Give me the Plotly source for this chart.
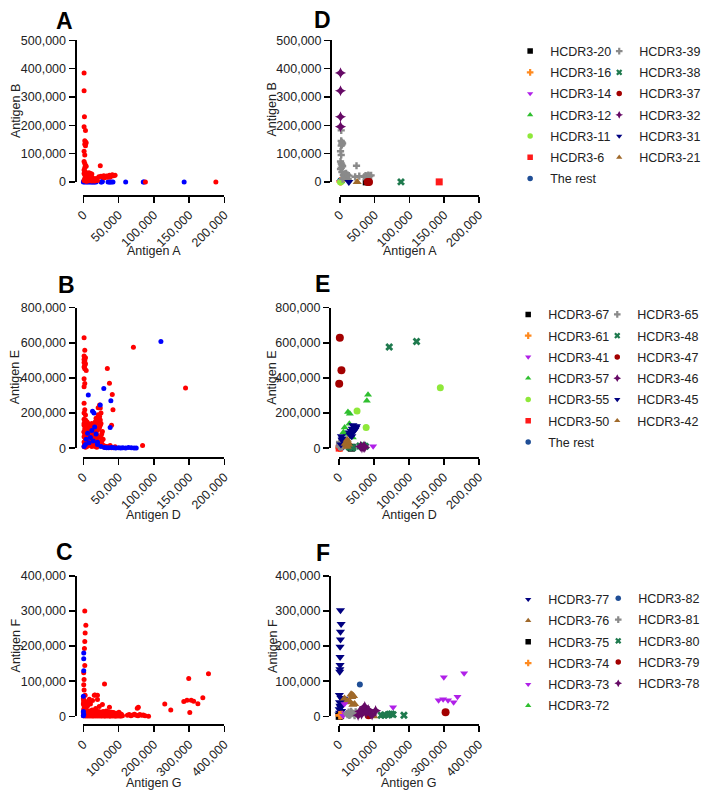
import plotly.graph_objects as go

W, H = 709, 799
FONT = "Arial, Liberation Sans, Helvetica, sans-serif"

# ---------------- data (values in thousands) ----------------
# Panel A : Antigen A (x) vs Antigen B (y)
A_red = [(1,385),(1,322),(1.5,230),(1,195),(3,182),(2,145),(3,141),(4,138),(2,133),(3,128),
         (1,108),(2,95),(1,72),(2,65),(3,58),(4,55),(2,50),(1,42),(3,35),(1,30),(2,25),(4,28),
         (6,30),(8,32),(10,30),(12,28),(5,22),(7,20),(9,18),(11,20),(13,15),(15,10),(17,8),(3,18),
         (5,15),(7,12),(9,10),(11,8),(2,12),(4,8),(6,6),(8,4),(1,5),(3,3),(5,2),(10,5),(12,3),(14,5),
         (16,3),(24,57),(22,18),(25,20),(27,17),(29,22),(31,19),(33,21),(35,18),(37,23),(39,20),
         (41,25),(43,22),(45,23),(30,15),(34,16),(38,17),(88,0),(188,0),(20,5),(18,12)]
A_blue = [(0,0),(1,1),(2,0),(3,2),(4,0),(5,1),(6,0),(7,1),(8,0),(9,2),(10,0),(11,1),(12,0),(13,0),
          (14,1),(15,0),(16,0),(17,1),(18,0),(25,0),(26,0),(27,1),(35,0),(37,0),(38,0),(40,0),(42,0),
          (60,0),(85,0),(86,0),(143,0),(1,5),(2,3)]

# Panel B : Antigen D (x) vs Antigen E (y)
B_red = [(1,628),(2,557),(1,524),(3,515),(1,505),(2,497),(1,488),(3,480),(2,472),(1,462),(2,452),
         (4,442),(1,395),(2,368),(1,350),(1,255),(2,218),(1,200),(3,188),(1,165),(2,150),(1,130),
         (3,110),(1,95),(2,80),(1,65),(3,50),(1,35),(2,20),(1,10),(3,5),
         (5,120),(6,100),(8,90),(10,80),(12,70),(7,60),(9,50),(11,40),(13,30),(15,20),(17,10),(19,5),
         (4,45),(3,70),(6,30),(8,20),(10,15),(12,10),(14,60),(16,50),(18,45),(20,40),(22,35),(24,30),
         (20,100),(22,110),(23,120),(24,130),(25,140),(22,150),(24,160),(20,170),(23,180),(25,200),
         (24,228),(23,246),(21,230),(18,170),(17,150),(15,130),(13,110),(11,120),(9,130),(7,140),
         (5,150),(3,160),(16,90),(14,85),(19,75),(21,65),(26,80),(27,95),(25,60),(28,50),(26,40),
         (27,20),(29,10),(30,5),(32,3),(35,5),(38,3),(40,2),(5,10),(2,25),(3,40),(6,80),(1,90),(2,110),
         (1,140),(17,120),(19,140),(21,190),(15,100),(12,140),(10,105),(8,115),(30,12),(33,10),(36,8),
         (71,574),(145,343),(84,15),(34,454),(37,370),(41,305),(42,218),(40,131),(38,15),(45,8)]
B_blue = [(110,607),(7,302),(29,339),(39,270),(38,117),(13,210),(15,200),(24,246),(16,120),(12,100),
          (6,85),(10,60),(18,80),(4,50),(8,30),(14,40),(20,20),(25,10),(30,3),(33,2),(36,2),(40,3),
          (43,2),(46,1),(50,2),(53,1),(56,2),(60,1),(64,3),(68,2),(72,1),(75,1),(3,20),(1,10),(20,33)]

# Panel C : Antigen G (x) vs Antigen F (y)
C_red = [(4,300),(7,259),(5,237),(4,213),(3,193),(4,145),(1,124),(2,105),(1,90),(2,75),(1,40),(2,30),
         (1,20),(3,25),(0,10),(1,45),(0,35),(0,50),
         (60,92),(33,61),(40,60),(31,60),(17,49),(26,45),(40,48),(17,42),(54,34),(74,26),(10,40),
         (12,30),(20,35),(8,25),(5,60),(3,45),(6,20),(45,28),(35,22),(25,18),(65,15),(80,12),(15,15),
         (299,108),(355,121),(339,53),(285,42),(294,46),(306,46),(313,43),(325,36),(231,35),(248,18),
         (302,11),(185,0),(153,23),(156,26),
         (0,2),(3,8),(6,4),(9,10),(12,3),(15,7),(18,12),(21,5),(24,9),(27,2),(30,6),(33,11),(36,4),
         (39,8),(42,3),(45,10),(48,6),(51,2),(54,9),(57,5),(60,12),(63,3),(66,7),(69,4),(72,10),(75,2),
         (78,6),(81,9),(84,3),(87,5),(90,8),(93,2),(96,6),(99,4),(102,9),(105,3),(108,6),(111,2),
         (125,3),(130,5),(135,2),(140,4),(145,6),(150,3),(155,2),(160,5),(165,3),(170,4),(175,2),
         (2,14),(5,1),(8,16),(11,1),(14,13),(17,1),(20,15),(23,1),(26,14),(29,1),(32,15),(35,1),
         (38,13),(41,1),(44,14),(47,1),(50,12),(53,1),(56,14),(59,1),(62,1),(65,11),(68,1),(71,13),
         (74,1),(77,1),(80,10),(83,1),(86,11),(89,1),(92,1),(95,9),(98,1),(101,12),(104,1),(107,1)]
C_blue = [(1,180),(1,164),(1,130),(0,57),(0,14),(1,5),(0,2)]

# Panel D groups (Antigen A vs Antigen B)
D_rest = [(0.5,3),(1,6),(2,2),(3,8),(1.5,0)]
D_20 = [(38,0)]
D_16 = [(1,2)]
D_14 = [(0.5,0)]
D_12 = [(2,1)]
D_11 = [(1,0)]
D_6 = [(143,0)]
D_39 = [(2,182),(2,145),(3,140),(4,136),(3,132),(2,128),(1,108),(2,95),(1,72),(2,65),(3,60),(4,55),
        (2,50),(1,45),(3,35),(5,25),(7,28),(9,30),(11,25),(13,22),(6,18),(8,15),(24,57),(22,18),(28,20),
        (35,18),(37,22),(39,20),(41,24),(43,21),(45,23),(40,15),(10,12),(12,10),(4,10)]
D_38 = [(88,0)]
D_37 = [(40,0),(42,0)]
D_32 = [(1,385),(1,322),(1,230),(1,195)]
D_31 = [(13,0)]
D_21 = [(25,0)]

# Panel E groups (Antigen D vs Antigen E)
E_rest = [(2,12),(4,2),(1,18),(3,6),(6,10)]
E_67 = [(17,3),(19,5),(18,0)]
E_61 = [(1,2),(3,5)]
E_41 = [(49,11),(2,3)]
E_57 = [(41.7,304),(40,270),(13,206),(15.7,196),(8.3,117),(6.5,91),(15,139),(10,80),(5,30),(20,60)]
E_55 = [(145,344),(26,211),(39,117)]
E_50 = [(0.5,0)]
E_65 = [(0.5,10),(1,25),(2,5),(3,15),(4,8),(1,35)]
E_48 = [(72,576),(111,607),(30,12),(33,8),(35,15),(38,10),(15,5),(18,3),(20,2)]
E_47 = [(1.4,628),(3.7,443),(0.5,367)]
E_46 = [(33,2),(35,6),(37,4),(31,10),(36,12)]
E_45 = [(3.7,67),(4.6,48),(20,131),(22,122),(17.6,98),(15,89),(24,115),(25,125),(19,110),(18.5,67),
        (21,95),(23,105),(16,75),(5,55),(6,40),(3,20)]
E_42 = [(12,48),(10.6,30),(13,35),(14,20),(11,15),(9,25),(12,8)]

# Panel F groups (Antigen G vs Antigen F)
F_77 = [(4.6,302),(6.5,263),(4.6,241),(4.6,219),(3.5,198),(3.5,169),(3.5,146),(3,134),(2.5,127),
        (1.5,61),(14,50),(2,40),(3,30),(1,20),(5,25),(8,15),(2,10),(10,35),(12,45),(6,52),(0.5,5)]
F_76 = [(35,63),(42,58),(39,61),(23,42),(33,40),(40,33),(28,41),(16,51),(37,55),(45,35),(100,0)]
F_75 = [(1,0),(5,2)]
F_74 = [(2,3),(8,4)]
F_73 = [(300,111),(285,46),(298,49),(312,46),(328,40),(339,56),(358,123),(155,26),(17,9),(16,35),(12,2)]
F_72 = [(135,3),(125,2)]
F_82 = [(60,91)]
F_81 = [(23,8),(28,12),(33,5),(38,10),(43,7),(48,13),(53,9),(58,5),(30,3),(45,2),(35,14),(25,5)]
F_80 = [(121,3),(130,4),(144,6),(150,7),(155,5),(140,4),(186,3)]
F_79 = [(305,12),(85,3)]
F_78 = [(74,28),(70,23),(84,19),(105,16),(60,14),(78,10),(90,8),(65,6),(95,4),(55,3)]

# tick values / labels (thousands)
ticks_200 = [0, 50, 100, 150, 200]
ticks_200_txt = ["0", "50,000", "100,000", "150,000", "200,000"]
ticks_400 = [0, 100, 200, 300, 400]
ticks_400_txt = ["0", "100,000", "200,000", "300,000", "400,000"]
ticks_500 = [0, 100, 200, 300, 400, 500]
ticks_500_txt = ["0", "100,000", "200,000", "300,000", "400,000", "500,000"]
ticks_800 = [0, 200, 400, 600, 800]
ticks_800_txt = ["0", "200,000", "400,000", "600,000", "800,000"]

# legend series (column 1, column 2)
D_col1 = [("HCDR3-20", D_20), ("HCDR3-16", D_16), ("HCDR3-14", D_14), ("HCDR3-12", D_12),
          ("HCDR3-11", D_11), ("HCDR3-6", D_6), ("The rest", D_rest)]
D_col2 = [("HCDR3-39", D_39), ("HCDR3-38", D_38), ("HCDR3-37", D_37), ("HCDR3-32", D_32),
          ("HCDR3-31", D_31), ("HCDR3-21", D_21)]
E_col1 = [("HCDR3-67", E_67), ("HCDR3-61", E_61), ("HCDR3-41", E_41), ("HCDR3-57", E_57),
          ("HCDR3-55", E_55), ("HCDR3-50", E_50), ("The rest", E_rest)]
E_col2 = [("HCDR3-65", E_65), ("HCDR3-48", E_48), ("HCDR3-47", E_47), ("HCDR3-46", E_46),
          ("HCDR3-45", E_45), ("HCDR3-42", E_42)]
F_col1 = [("HCDR3-77", F_77), ("HCDR3-76", F_76), ("HCDR3-75", F_75), ("HCDR3-74", F_74),
          ("HCDR3-73", F_73), ("HCDR3-72", F_72)]
F_col2 = [("HCDR3-82", F_82), ("HCDR3-81", F_81), ("HCDR3-80", F_80), ("HCDR3-79", F_79),
          ("HCDR3-78", F_78)]

# ---------------- styles ----------------
STY = {
    "black_sq": ("#000000", "square", 7),
    "orange_cross": ("#ff8a1f", "cross", 7),
    "violet_tdown": ("#b020e8", "triangle-down", 7),
    "green_tup": ("#2fbf2f", "triangle-up", 7),
    "lime_circ": ("#8fe83a", "circle", 7),
    "red_sq": ("#ff1a1a", "square", 7),
    "blue_circ": ("#1f4e96", "circle", 6),
    "grey_cross": ("#8a8a8a", "cross", 6),
    "teal_x": ("#1f7a4e", "x", 7),
    "dred_circ": ("#a30000", "circle", 8),
    "purple_dia": ("#660a66", "star-diamond", 8),
    "navy_tdown": ("#000080", "triangle-down", 8),
    "brown_tup": ("#a0692a", "triangle-up", 8),
}
LEG_SIZE = 5.5
DE_col1_sty = ["black_sq", "orange_cross", "violet_tdown", "green_tup", "lime_circ", "red_sq", "blue_circ"]
DE_col2_sty = ["grey_cross", "teal_x", "dred_circ", "purple_dia", "navy_tdown", "brown_tup"]
F_col1_sty = ["navy_tdown", "brown_tup", "black_sq", "orange_cross", "violet_tdown", "green_tup"]
F_col2_sty = ["blue_circ", "grey_cross", "teal_x", "dred_circ", "purple_dia"]

def fx(p):
    return p / W

def fy(p):
    return 1 - p / H

# panel geometry in pixels
PANELS = [
    dict(i=1, xd=(77, 221), yd=(34, 178), yl=69, xl=192, xr=200, yr=500,
         xt=(ticks_200, ticks_200_txt), yt=(ticks_500, ticks_500_txt)),
    dict(i=2, xd=(77, 221), yd=(306, 449), yl=69, xl=459, xr=200, yr=800,
         xt=(ticks_200, ticks_200_txt), yt=(ticks_800, ticks_800_txt)),
    dict(i=3, xd=(77, 221), yd=(579, 722), yl=69, xl=731, xr=400, yr=400,
         xt=(ticks_400, ticks_400_txt), yt=(ticks_400, ticks_400_txt)),
    dict(i=4, xd=(339, 481), yd=(34, 178), yl=330, xl=192, xr=200, yr=500,
         xt=(ticks_200, ticks_200_txt), yt=(ticks_500, ticks_500_txt)),
    dict(i=5, xd=(338, 481), yd=(306, 449), yl=329, xl=459, xr=200, yr=800,
         xt=(ticks_200, ticks_200_txt), yt=(ticks_800, ticks_800_txt)),
    dict(i=6, xd=(338, 481), yd=(579, 722), yl=329, xl=731, xr=400, yr=400,
         xt=(ticks_400, ticks_400_txt), yt=(ticks_400, ticks_400_txt)),
]

fig = go.Figure()
tickfont = dict(family=FONT, size=12.5, color="#222")
layout_axes = {}
for p in PANELS:
    i = p["i"]
    xk = "xaxis" if i == 1 else f"xaxis{i}"
    yk = "yaxis" if i == 1 else f"yaxis{i}"
    layout_axes[xk] = dict(domain=[fx(p["xd"][0]), fx(p["xd"][1])], range=[0, p["xr"]],
                           anchor="free", position=fy(p["xl"]), showline=True, linewidth=2,
                           linecolor="black", ticks="outside", ticklen=6, tickwidth=1.5,
                           tickcolor="black", tickvals=p["xt"][0], ticktext=p["xt"][1],
                           tickangle=-45, showgrid=False, zeroline=False, tickfont=tickfont)
    layout_axes[yk] = dict(domain=[fy(p["yd"][1]), fy(p["yd"][0])], range=[0, p["yr"]],
                           anchor="free", position=fx(p["yl"]), showline=True, linewidth=2,
                           linecolor="black", ticks="outside", ticklen=6, tickwidth=1.5,
                           tickcolor="black", tickvals=p["yt"][0], ticktext=p["yt"][1],
                           showgrid=False, zeroline=False, tickfont=tickfont)

def ax(i):
    return ("x" if i == 1 else f"x{i}", "y" if i == 1 else f"y{i}")

def add_pts(pts, i, color, symbol, size, name=None):
    xa, ya = ax(i)
    fig.add_trace(go.Scatter(
        x=[a for a, b in pts], y=[b for a, b in pts], mode="markers",
        xaxis=xa, yaxis=ya, cliponaxis=False,
        marker=dict(color=color, symbol=symbol, size=size, line=dict(width=0)),
        name=name, showlegend=False))

def add_legend_entry(i, name, color, symbol, legend, rank):
    xa, ya = ax(i)
    fig.add_trace(go.Scatter(
        x=[None], y=[None], mode="markers", xaxis=xa, yaxis=ya,
        marker=dict(color=color, symbol=symbol, size=LEG_SIZE, line=dict(width=0)),
        name=name, showlegend=True, legend=legend, legendgroup=f"{legend}-{name}",
        legendrank=rank))

# red / blue panels
add_pts(A_blue, 1, "#0000ff", "circle", 5)
add_pts(A_red, 1, "#ff0000", "circle", 5)
add_pts(B_red, 2, "#ff0000", "circle", 5)
add_pts(B_blue, 2, "#0000ff", "circle", 5)
add_pts(C_red, 3, "#ff0000", "circle", 5)
add_pts(C_blue, 3, "#0000ff", "circle", 5)

def add_groups(i, col1, col2, sty1, sty2, leg1, leg2):
    items = []
    for k, (nm, pts) in enumerate(col1):
        items.append((nm, pts, sty1[k], leg1, k))
    for k, (nm, pts) in enumerate(col2):
        items.append((nm, pts, sty2[k], leg2, k))
    draw = sorted(items, key=lambda t: 0 if t[0] == "The rest" else 1)
    for nm, pts, s, leg, k in draw:
        c, sym, sz = STY[s]
        add_pts(pts, i, c, sym, sz, name=nm)
    for nm, pts, s, leg, k in items:
        c, sym, sz = STY[s]
        add_legend_entry(i, nm, c, sym, leg, k + 1)

add_groups(4, D_col1, D_col2, DE_col1_sty, DE_col2_sty, "legend", "legend2")
add_groups(5, E_col1, E_col2, DE_col1_sty, DE_col2_sty, "legend3", "legend4")
add_groups(6, F_col1, F_col2, F_col1_sty, F_col2_sty, "legend5", "legend6")

def leg(xpx, ytop):
    return dict(x=fx(xpx), y=fy(ytop), xanchor="left", yanchor="top",
                bgcolor="rgba(0,0,0,0)", borderwidth=0,
                font=dict(family=FONT, size=12.5, color="#222"),
                traceorder="grouped", tracegroupgap=2, itemclick=False,
                itemdoubleclick=False)

annotations = []
def text(s, x, y, size=12.5, bold=False, angle=0):
    annotations.append(dict(text=f"<b>{s}</b>" if bold else s, x=fx(x), y=fy(y),
                            xref="paper", yref="paper", showarrow=False,
                            xanchor="center", yanchor="middle", textangle=angle,
                            font=dict(family=FONT, size=size, color="#000" if bold else "#222")))

for s, x, y in [("A", 58, 14), ("D", 321, 13), ("B", 60, 283), ("E", 321, 282),
                ("C", 58, 555), ("F", 322, 556)]:
    text(s, x, y, size=23, bold=True)
for s, x, y in [("Antigen A", 149, 248), ("Antigen A", 411, 248), ("Antigen D", 149, 517),
                ("Antigen D", 410, 517), ("Antigen G", 149, 790), ("Antigen G", 410, 790)]:
    text(s, x, y)
for s, x, y in [("Antigen B", 8, 106), ("Antigen B", 270, 104), ("Antigen E", 8, 377),
                ("Antigen E", 270, 377), ("Antigen F", 8, 650), ("Antigen F", 270, 650)]:
    text(s, x, y, angle=-90)

fig.update_layout(
    width=W, height=H, autosize=False, margin=dict(l=0, r=0, t=0, b=0),
    paper_bgcolor="white", plot_bgcolor="white",
    annotations=annotations,
    legend=leg(513, 30), legend2=leg(604, 30),
    legend3=leg(511, 298), legend4=leg(602, 298),
    legend5=leg(511, 588), legend6=leg(603, 587),
    **layout_axes,
)

fig.write_html(
    "out.html",
    config={"displayModeBar": False, "staticPlot": True},
    post_script="document.body.style.margin='0';document.body.style.padding='0';"
                "document.documentElement.style.overflow='hidden';",
)
